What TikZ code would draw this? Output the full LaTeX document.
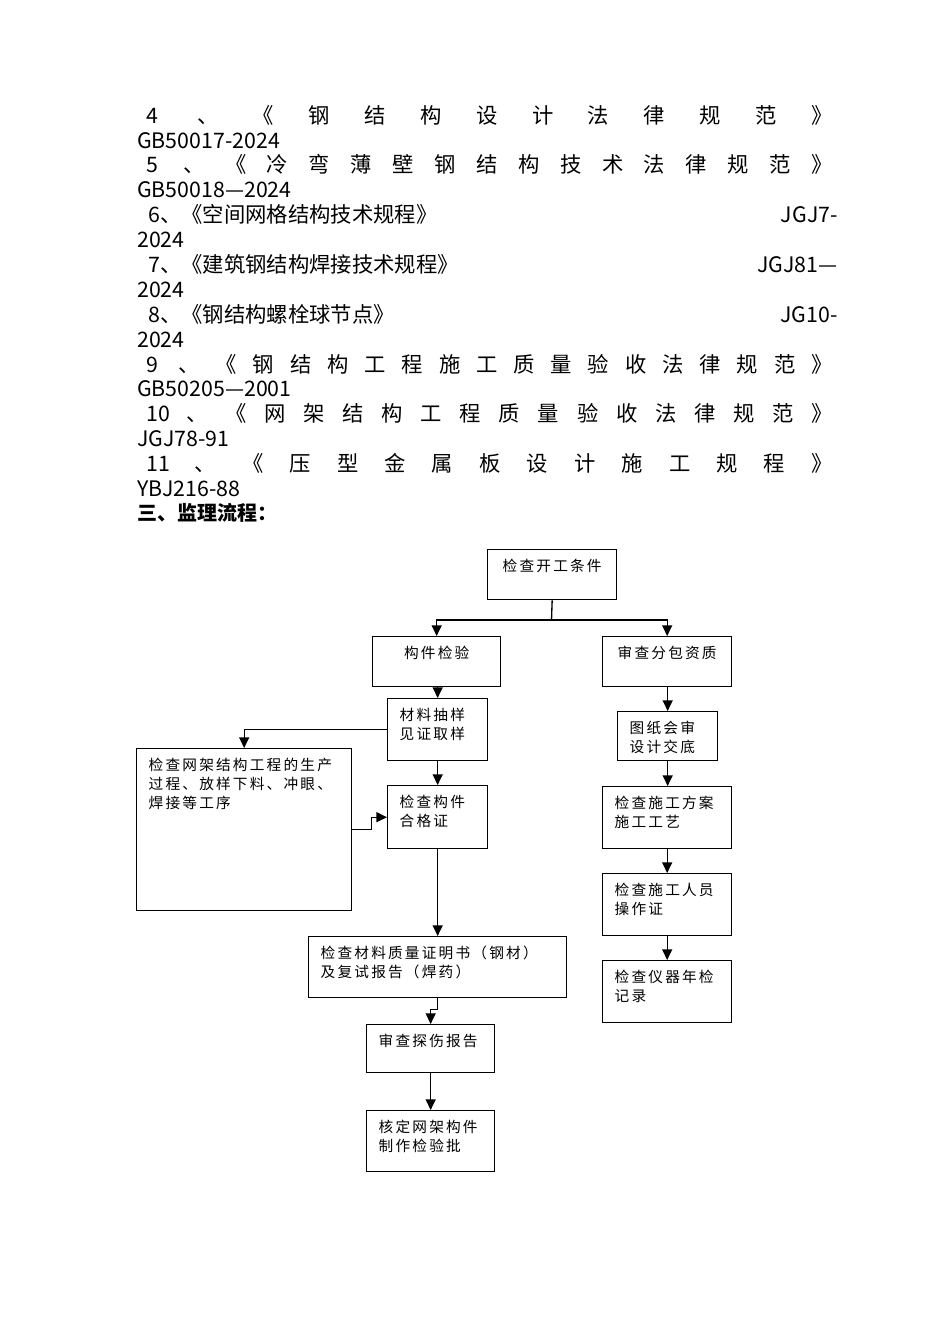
\documentclass[tikz,border=0pt]{standalone}
\usepackage{fontspec}
\setmainfont{Noto Sans CJK SC}
\newfontfamily\boxfont[LetterSpace=15]{Noto Sans CJK SC}
\usetikzlibrary{arrows.meta}

\tikzset{
  body/.style={anchor=base west, inner sep=0pt, font=\fontsize{16}{19}\selectfont},
  bodyr/.style={body, anchor=base east},
  spread/.style={body, anchor=base},
  head/.style={body, font=\fontsize{15}{18}\selectfont\bfseries},
  box/.style={draw, line width=1pt, anchor=north west, align=left,
    inner xsep=9pt, inner ysep=0pt, text height=16pt,
    font=\boxfont\fontsize{11}{14.25}\selectfont},
  link/.style={line width=1pt},
  go/.style={link, -{Triangle[length=8pt,width=7.5pt]}},
}

\begin{document}
\begin{tikzpicture}[x=0.75pt,y=0.75pt,yscale=-1,xscale=1]
\useasboundingbox (0,0) rectangle (950,1344);

% Text Node: clause 4
\foreach \ch [count=\i from 0] in {4,、,《,钢,结,构,设,计,法,律,规,范,》}
  \draw (152+55.83*\i,123.2) node [spread] (ra\i) {\ch};
\draw (137,148.1) node [body] (ca) {GB50017-2024};

% Text Node: clause 5
\foreach \ch [count=\i from 0] in {5,、,《,冷,弯,薄,壁,钢,结,构,技,术,法,律,规,范,》}
  \draw (152+41.88*\i,173.0) node [spread] (rb\i) {\ch};
\draw (137,197.8) node [body] (cb) {GB50018—2024};

% Text Node: clauses 6-8
\draw (148,222.7) node [body] (rc) {6、《空间网格结构技术规程》};
\draw (838,222.7) node [bodyr] (rcx) {JGJ7-};
\draw (137,247.6) node [body] (cc) {2024};
\draw (148,272.5) node [body] (rd) {7、《建筑钢结构焊接技术规程》};
\draw (838,272.5) node [bodyr] (rdx) {JGJ81—};
\draw (137,297.3) node [body] (cd) {2024};
\draw (148,322.2) node [body] (re) {8、《钢结构螺栓球节点》};
\draw (838,322.2) node [bodyr] (rex) {JG10-};
\draw (137,347.1) node [body] (ce) {2024};

% Text Node: clause 9
\foreach \ch [count=\i from 0] in {9,、,《,钢,结,构,工,程,施,工,质,量,验,收,法,律,规,范,》}
  \draw (152+37.22*\i,372.0) node [spread] (rf\i) {\ch};
\draw (137,396.8) node [body] (cf) {GB50205—2001};

% Text Node: clause 10
\foreach \ch [count=\i from 0] in {10,、,《,网,架,结,构,工,程,质,量,验,收,法,律,规,范,》}
  \draw (158+39.06*\i,421.7) node [spread] (rg\i) {\ch};
\draw (137,446.6) node [body] (cg) {JGJ78-91};

% Text Node: clause 11
\foreach \ch [count=\i from 0] in {11,、,《,压,型,金,属,板,设,计,施,工,规,程,》}
  \draw (158+47.43*\i,471.5) node [spread] (rh\i) {\ch};
\draw (137,496.3) node [body] (ch) {YBJ216-88};

% Text Node: heading
\draw (137,520.8) node [head] (title) {三、监理流程：};

% Boxes
\draw (487,549) node [box, align=center, text width=78.75pt, text depth=21.5pt] (start) {检查开工条件};
\draw (372,636) node [box, align=center, text width=78pt, text depth=21.5pt] (parts) {构件检验};
\draw (602,636) node [box, align=center, text width=78.75pt, text depth=21.5pt] (subc) {审查分包资质};
\draw (387,698) node [box, text width=57pt, text depth=30.5pt] (sample) {材料抽样\\见证取样};
\draw (136,748) node [box, text width=143.25pt, text depth=105.5pt] (proc) {检查网架结构工程的生产\\过程、放样下料、冲眼、\\焊接等工序};
\draw (387,785) node [box, text width=57pt, text depth=31.3pt] (cert) {检查构件\\合格证};
\draw (308,936) node [box, text width=175.5pt, text depth=29.8pt] (matl) {检查材料质量证明书（钢材）\\及复试报告（焊药）};
\draw (366,1024) node [box, text width=78pt, text depth=20pt] (flaw) {审查探伤报告};
\draw (366,1110) node [box, text width=78pt, text depth=29.8pt] (batch) {核定网架构件\\制作检验批};
\draw (617,711) node [box, text width=57pt, text depth=20.8pt] (dwg) {图纸会审\\设计交底};
\draw (602,786) node [box, text width=78.75pt, text depth=30.5pt] (plan) {检查施工方案\\施工工艺};
\draw (602,873) node [box, text width=78.75pt, text depth=30.5pt] (staff) {检查施工人员\\操作证};
\draw (602,960) node [box, text width=78.75pt, text depth=30.5pt] (instr) {检查仪器年检\\记录};

%Straight Lines
\coordinate (split) at (551.5,620);
\draw [link] (start.south) -- (split);
\draw [go] (split) -| (parts.north);
\draw [go] (split) -| (subc.north);
\draw [go] (sample.north |- parts.south) -- (sample.north);
\draw [go] (sample.west) -| (proc.north);
\draw [go] (sample.south) -- (cert.north);
\draw [go] (proc.east) -- ++(19,0) |- (cert.west);
\draw [go] (cert.south) -- (cert.south |- matl.north);
\draw [go] (matl.south) -- ++(0,11) -| (flaw.north);
\draw [go] (flaw.south) -- (batch.north);
\draw [go] (dwg.north |- subc.south) -- (dwg.north);
\draw [go] (dwg.south) -- (dwg.south |- plan.north);
\draw [go] (plan.south) -- (staff.north);
\draw [go] (staff.south) -- (instr.north);

\end{tikzpicture}
\end{document}
